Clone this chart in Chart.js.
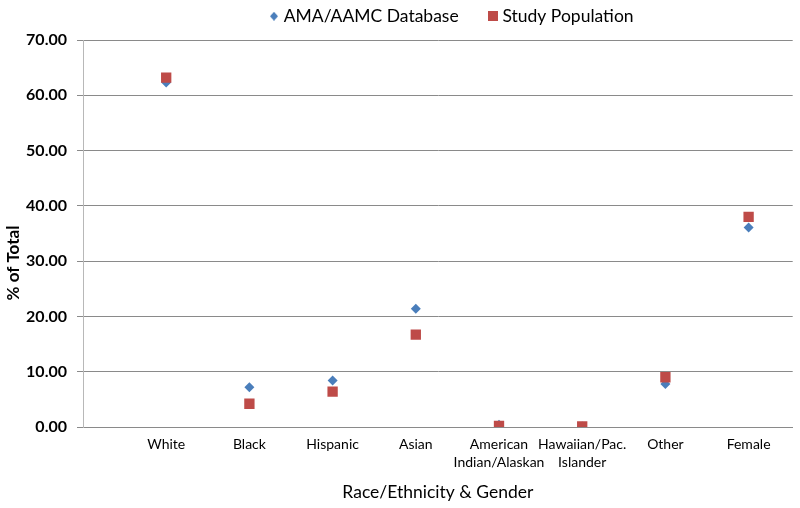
<!DOCTYPE html>
<html><head><meta charset="utf-8">
<script src="https://cdn.jsdelivr.net/npm/chart.js@4.4.1/dist/chart.umd.min.js"></script>
<style>html,body{margin:0;padding:0;background:#fff;} canvas{display:block;}</style>
</head><body>
<canvas id="c" width="800" height="508"></canvas>
<script>
// ---- data ----
const categories = ['White', 'Black', 'Hispanic', 'Asian', ['American', 'Indian/Alaskan'], ['Hawaiian/Pac.', 'Islander'], 'Other', 'Female'];
const amaValues = [62.3, 7.2, 8.4, 21.4, 0.4, 0.1, 7.8, 36.1];
const studyValues = [63.2, 4.2, 6.4, 16.7, 0.2, 0.1, 9.0, 38.0];
const yTicks = [0, 10, 20, 30, 40, 50, 60, 70];
const seriesNames = ['AMA/AAMC Database', 'Study Population'];
const xTitle = 'Race/Ethnicity & Gender';
const yTitle = '% of Total';

const FONT = 'Lato';
const BLUE = '#4A7EBB';
const RED = '#BE4B48';

function makeMarker(kind, color) {
  const c = document.createElement('canvas');
  if (kind === 'diamond') {
    c.width = 8; c.height = 9;
    const ctx = c.getContext('2d');
    ctx.fillStyle = color;
    ctx.beginPath(); ctx.moveTo(4, 0); ctx.lineTo(8, 4.5); ctx.lineTo(4, 9); ctx.lineTo(0, 4.5); ctx.closePath(); ctx.fill();
  } else {
    c.width = 10; c.height = 10;
    const ctx = c.getContext('2d');
    ctx.fillStyle = color; ctx.fillRect(0, 0, 10, 10);
  }
  return c;
}
const legendMarkers = [makeMarker('diamond', BLUE), makeMarker('square', RED)];

const tweaks = {
  id: 'tweaks',
  beforeLayout(chart) {
    const lg = chart.legend;
    if (lg && !lg._fixed) {
      const fit = lg.fit;
      lg.fit = function () { fit.call(this); this.height = 40; };
      lg._fixed = true;
    }
  },
  beforeDraw(chart) {
    const lg = chart.legend;
    if (lg) { lg.left = 240; lg.top = -25.5; }
  },
  afterDraw(chart) {
    const ctx = chart.ctx;
    ctx.save();
    ctx.translate(14, 263);
    ctx.rotate(-Math.PI / 2);
    ctx.font = 'bold 17px ' + FONT;
    ctx.fillStyle = '#000';
    ctx.textAlign = 'center';
    ctx.textBaseline = 'middle';
    ctx.fillText(yTitle, 0, 0);
    ctx.restore();
  }
};

new Chart(document.getElementById('c'), {
  type: 'scatter',
  data: {
    datasets: [
      {
        label: seriesNames[0],
        data: amaValues.map((v, i) => ({ x: i + 1, y: v })),
        pointStyle: 'rectRot', pointRadius: 5, pointHoverRadius: 5,
        backgroundColor: BLUE, borderColor: BLUE, borderWidth: 0,
        order: 1
      },
      {
        label: seriesNames[1],
        data: studyValues.map((v, i) => ({ x: i + 1, y: v })),
        pointStyle: 'rect', pointRadius: 7.3, pointHoverRadius: 7.3,
        backgroundColor: RED, borderColor: RED, borderWidth: 0,
        order: 0
      }
    ]
  },
  options: {
    responsive: false,
    animation: false,
    layout: { padding: { left: 0, right: 7, top: 0, bottom: 0 } },
    plugins: {
      tooltip: { enabled: false },
      legend: {
        display: true,
        position: 'top',
        align: 'start',
        labels: {
          usePointStyle: true,
          boxWidth: 2, boxHeight: 2,
          padding: 33,
          color: '#000',
          font: { family: FONT, size: 17.5 },
          sort: (a, b) => a.datasetIndex - b.datasetIndex,
          generateLabels(chart) {
            const items = Chart.defaults.plugins.legend.labels.generateLabels(chart);
            items.forEach(it => { it.pointStyle = legendMarkers[it.datasetIndex]; });
            return items;
          }
        }
      }
    },
    scales: {
      x: {
        type: 'linear',
        min: 0, max: 8.53,
        afterBuildTicks(scale) { scale.ticks = categories.map((c, i) => ({ value: i + 1 })); },
        afterFit(scale) { scale.height = 81; },
        grid: { display: false },
        border: { display: true, color: '#8a8a8a', width: 1 },
        ticks: {
          autoSkip: false, maxRotation: 0, minRotation: 0, padding: 0,
          color: '#000',
          font: { family: FONT, size: 14, lineHeight: 1.3 },
          callback: (v, i) => categories[i]
        },
        title: {
          display: true, text: xTitle, color: '#000',
          font: { family: FONT, size: 17.5 },
          padding: { top: 4, bottom: 5 }
        }
      },
      y: {
        min: 0, max: 70,
        afterBuildTicks(scale) { scale.ticks = yTicks.map(v => ({ value: v })); },
        afterFit(scale) { scale.width = 83; },
        grid: { color: '#8a8a8a', lineWidth: 1, tickLength: 6, drawTicks: true },
        border: { display: true, color: '#b8b8b8', width: 1 },
        ticks: {
          padding: 10, color: '#000',
          font: { family: FONT, size: 16, weight: 'bold' },
          callback: v => Number(v).toFixed(2)
        },
        title: { display: false }
      }
    }
  },
  plugins: [tweaks]
});
</script>
</body></html>
